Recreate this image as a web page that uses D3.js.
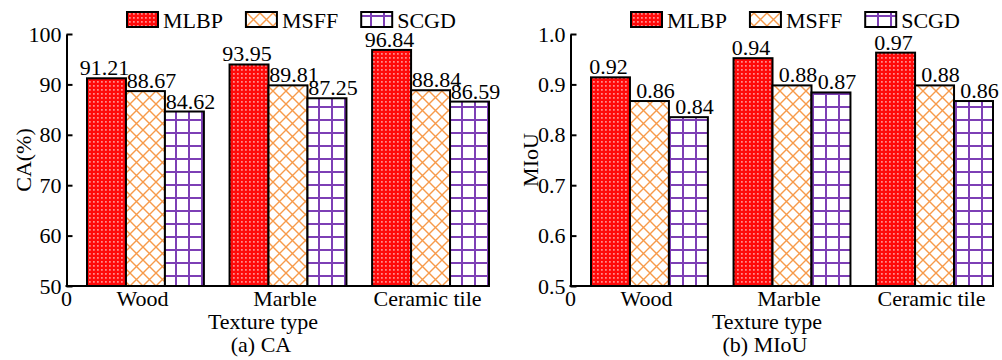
<!DOCTYPE html>
<html><head><meta charset="utf-8">
<script src="https://cdn.jsdelivr.net/npm/d3@7"></script>
<style>
body{margin:0;background:#fff;}
text{font-family:"Liberation Serif","Times New Roman",serif;}
</style>
</head><body>
<svg id="chart" width="1002" height="360"></svg>
<script>
// ---- data ----
const categories = ["Wood", "Marble", "Ceramic tile"];
const seriesNames = ["MLBP", "MSFF", "SCGD"];

const caMLBP = [91.21, 93.95, 96.84];
const caMSFF = [88.67, 89.81, 88.84];
const caSCGD = [84.62, 87.25, 86.59];
const caTicks = [50, 60, 70, 80, 90, 100];

const miouMLBP = [0.914, 0.952, 0.963];
const miouMSFF = [0.867, 0.898, 0.898];
const miouSCGD = [0.835, 0.884, 0.867];
const miouLabelsMLBP = ["0.92", "0.94", "0.97"];
const miouLabelsMSFF = ["0.86", "0.88", "0.88"];
const miouLabelsSCGD = ["0.84", "0.87", "0.86"];
const miouTicks = [0.5, 0.6, 0.7, 0.8, 0.9, 1.0];

// ---- drawing ----
const svg = d3.select("#chart");
const FS = 22;
const defs = svg.append("defs");

// MLBP: red with white dots
const p1 = defs.append("pattern").attr("id", "pat-MLBP").attr("patternUnits", "userSpaceOnUse")
  .attr("width", 4).attr("height", 4);
p1.append("rect").attr("width", 4).attr("height", 4).attr("fill", "#ff0a0a");
p1.append("rect").attr("x", 1.2).attr("y", 1.2).attr("width", 1.4).attr("height", 1.4).attr("fill", "#ffd6d6");

// MSFF: orange diagonal cross-hatch
const s2 = 13;
const p2 = defs.append("pattern").attr("id", "pat-MSFF").attr("patternUnits", "userSpaceOnUse")
  .attr("width", s2).attr("height", s2);
p2.append("rect").attr("width", s2).attr("height", s2).attr("fill", "#fff");
p2.append("path").attr("d", `M0,0L${s2},${s2}M${s2},0L0,${s2}`)
  .attr("stroke", "#f79a4a").attr("stroke-width", 1.4).attr("fill", "none");

// SCGD: purple grid
const s3 = 13;
const p3 = defs.append("pattern").attr("id", "pat-SCGD").attr("patternUnits", "userSpaceOnUse")
  .attr("width", s3).attr("height", s3).attr("x", 6).attr("y", 2);
p3.append("rect").attr("width", s3).attr("height", s3).attr("fill", "#fff");
p3.append("path").attr("d", `M1,0V${s3}M0,1H${s3}`)
  .attr("stroke", "#7d3fb5").attr("stroke-width", 2).attr("fill", "none");

const labelDx = [-2, 6, 6];

function panel(cfg) {
  const ox = cfg.ox;
  const g = svg.append("g");
  const y = d3.scaleLinear().domain(cfg.domain).range([286, 34]);
  const axisX = ox + 66.5;
  const x = d3.scaleBand().domain(categories).range([ox + 87, ox + 489]).paddingInner(0.18);
  const xs = d3.scaleBand().domain(seriesNames).range([0, x.bandwidth()]);

  const rows = [];
  categories.forEach((c, i) => {
    seriesNames.forEach((s, j) => {
      rows.push({ cat: c, s: s, j: j, v: cfg.values[j][i], label: cfg.labels[j][i] });
    });
  });

  g.selectAll("rect.bar").data(rows).enter().append("rect")
    .attr("class", "bar")
    .attr("x", d => x(d.cat) + xs(d.s))
    .attr("y", d => y(d.v))
    .attr("width", xs.bandwidth())
    .attr("height", d => y(cfg.domain[0]) - y(d.v))
    .attr("fill", d => `url(#pat-${d.s})`)
    .attr("stroke", "#000").attr("stroke-width", 2);

  g.selectAll("text.val").data(rows).enter().append("text")
    .attr("class", "val")
    .attr("x", d => x(d.cat) + xs(d.s) + xs.bandwidth() / 2 + labelDx[d.j])
    .attr("y", d => y(d.v) - 3)
    .attr("text-anchor", "middle")
    .attr("font-size", FS)
    .text(d => d.label);

  // y axis
  const ya = g.append("g").attr("transform", `translate(${axisX},0)`)
    .call(d3.axisLeft(y).tickValues(cfg.ticks).tickFormat(cfg.fmt)
      .tickSizeInner(-6).tickSizeOuter(0).tickPadding(5));
  ya.attr("font-size", FS).attr("font-family", null);
  ya.select(".domain").attr("stroke-width", 2);
  ya.selectAll(".tick line").attr("stroke-width", 2);
  ya.selectAll(".tick text").attr("fill", "#000");

  // x axis line
  g.append("line").attr("x1", axisX - 1).attr("x2", ox + 489)
    .attr("y1", y(cfg.domain[0])).attr("y2", y(cfg.domain[0]))
    .attr("stroke", "#000").attr("stroke-width", 2);

  g.append("text").attr("x", axisX).attr("y", 306).attr("text-anchor", "middle")
    .attr("font-size", FS).text("0");

  g.selectAll("text.cat").data(categories).enter().append("text")
    .attr("class", "cat")
    .attr("x", d => x(d) + x.bandwidth() / 2 - 3)
    .attr("y", 306)
    .attr("text-anchor", "middle").attr("font-size", FS).text(d => d);

  g.append("text").attr("x", ox + 263).attr("y", 329).attr("text-anchor", "middle")
    .attr("font-size", FS).text("Texture type");
  g.append("text").attr("x", ox + 261).attr("y", 352).attr("text-anchor", "middle")
    .attr("font-size", FS).text(cfg.caption);

  g.append("text").attr("transform", `translate(${ox + cfg.titleX},160) rotate(-90)`)
    .attr("text-anchor", "middle").attr("font-size", FS).text(cfg.yTitle);

  // legend
  let lx = ox + 127;
  seriesNames.forEach(s => {
    g.append("rect").attr("x", lx).attr("y", 12).attr("width", 31).attr("height", 15)
      .attr("fill", `url(#pat-${s})`).attr("stroke", "#000").attr("stroke-width", 2);
    const t = g.append("text").attr("x", lx + 36).attr("y", 27.5).attr("font-size", FS).text(s);
    lx += 36 + t.node().getComputedTextLength() + 23;
  });
}

panel({
  ox: 0, domain: [50, 100], ticks: caTicks, fmt: d3.format("d"),
  values: [caMLBP, caMSFF, caSCGD],
  labels: [caMLBP, caMSFF, caSCGD].map(a => a.map(v => v.toFixed(2))),
  yTitle: "CA(%)", titleX: 31, caption: "(a) CA"
});
panel({
  ox: 504, domain: [0.5, 1.0], ticks: miouTicks, fmt: d3.format(".1f"),
  values: [miouMLBP, miouMSFF, miouSCGD],
  labels: [miouLabelsMLBP, miouLabelsMSFF, miouLabelsSCGD],
  yTitle: "MIoU", titleX: 34, caption: "(b) MIoU"
});
</script>
</body></html>
